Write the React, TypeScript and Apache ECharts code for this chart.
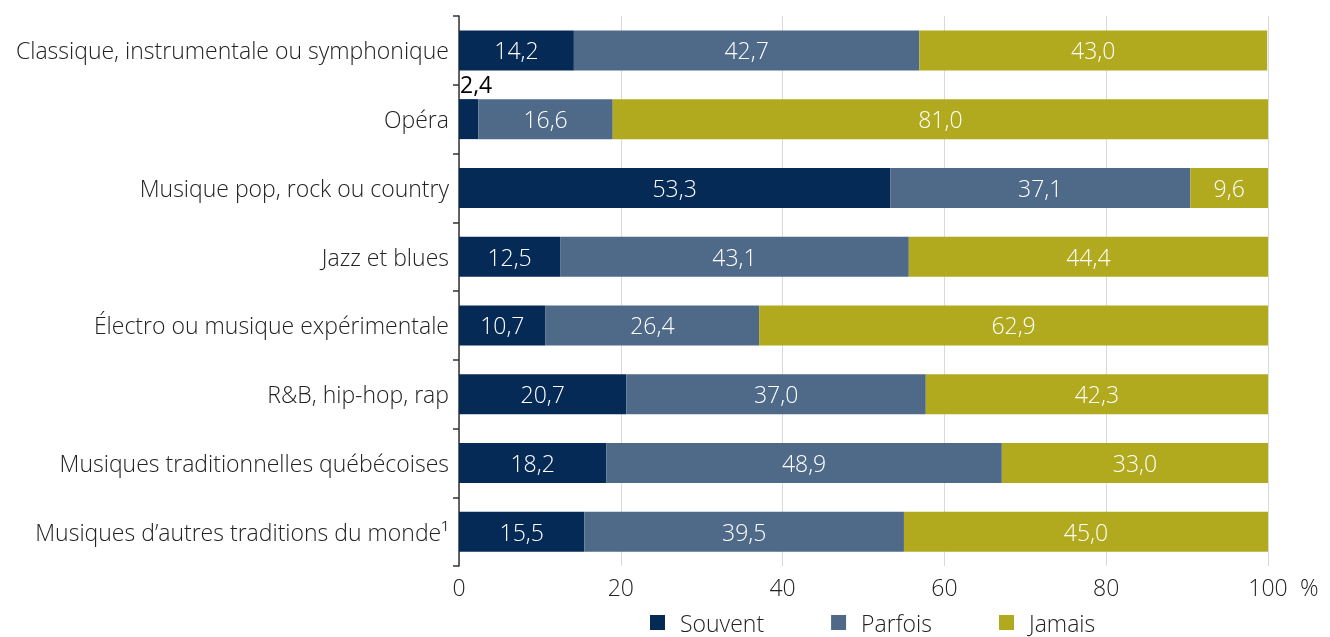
import React, { useEffect, useRef } from "react";
import * as echarts from "echarts";

const categories = [
  "Classique, instrumentale ou symphonique",
  "Opéra",
  "Musique pop, rock ou country",
  "Jazz et blues",
  "Électro ou musique expérimentale",
  "R&B, hip-hop, rap",
  "Musiques traditionnelles québécoises",
  "Musiques d’autres traditions du monde¹",
];
const souvent = [14.2, 2.4, 53.3, 12.5, 10.7, 20.7, 18.2, 15.5];
const parfois = [42.7, 16.6, 37.1, 43.1, 26.4, 37.0, 48.9, 39.5];
const jamais = [43.0, 81.0, 9.6, 44.4, 62.9, 42.3, 33.0, 45.0];
const xTicks = [0, 20, 40, 60, 80, 100];

const FONT = "Open Sans";
const FS = 23;
const fmt = (v: number) => v.toFixed(1).replace(".", ",");

export default function App() {
  const ref = useRef<HTMLDivElement>(null);
  useEffect(() => {
    if (!ref.current) return;
    const chart = echarts.init(ref.current, null, { renderer: "svg" });
    const labelBase = {
      show: true,
      position: "inside",
      color: "#ffffff",
      fontSize: FS,
      fontFamily: FONT,
      fontWeight: 300,
      formatter: (p: any) => fmt(p.value),
    };
    const mk = (name: string, data: number[], color: string) => ({
      name,
      type: "bar",
      stack: "total",
      barWidth: 40,
      itemStyle: { color },
      label: labelBase,
      data: data.map((v) => {
        if (v < 5) {
          return {
            value: v,
            label: {
              position: [1, -27],
              color: "#000000",
              fontSize: FS,
              fontWeight: 400,
            },
          };
        }
        return v;
      }),
    });
    chart.setOption({
      animation: false,
      textStyle: { fontFamily: FONT },
      grid: { left: 459, right: 62, top: 16, bottom: 71, containLabel: false },
      legend: {
        left: 650,
        top: 611,
        itemWidth: 15,
        itemHeight: 15,
        itemGap: 67,
        icon: "rect",
        padding: 0,
        textStyle: { fontSize: FS, fontFamily: FONT, fontWeight: 300, color: "#222", padding: [0, 0, 0, 10] },
        data: ["Souvent", "Parfois", "Jamais"],
      },
      xAxis: {
        type: "value",
        min: 0,
        max: 100,
        interval: 20,
        name: "%",
        nameLocation: "end",
        nameGap: 32,
        nameTextStyle: { fontSize: FS, fontFamily: FONT, fontWeight: 300, color: "#222", verticalAlign: "top", padding: [9, 0, 0, 0] },
        axisLine: { show: false },
        axisTick: { show: false },
        axisLabel: {
          fontSize: FS,
          fontFamily: FONT,
          fontWeight: 300,
          color: "#222",
          margin: 9,
          formatter: (v: number) => (xTicks.includes(v) ? String(v) : ""),
        },
        splitLine: { show: true, lineStyle: { color: "#d9d9d9", width: 1 } },
      },
      yAxis: {
        type: "category",
        inverse: true,
        data: categories,
        axisLine: { show: true, lineStyle: { color: "#333", width: 1.5 } },
        axisTick: { show: true, alignWithLabel: false, length: 6, lineStyle: { color: "#333", width: 1.5 } },
        axisLabel: { fontSize: FS, fontFamily: FONT, fontWeight: 300, color: "#222", margin: 10 },
      },
      series: [
        mk("Souvent", souvent, "#062a56"),
        mk("Parfois", parfois, "#4f6a89"),
        mk("Jamais", jamais, "#b1aa1f"),
      ],
    });
    return () => chart.dispose();
  }, []);
  return <div ref={ref} style={{ position: "fixed", left: 0, top: 0, width: 1330, height: 637 }} />;
}
